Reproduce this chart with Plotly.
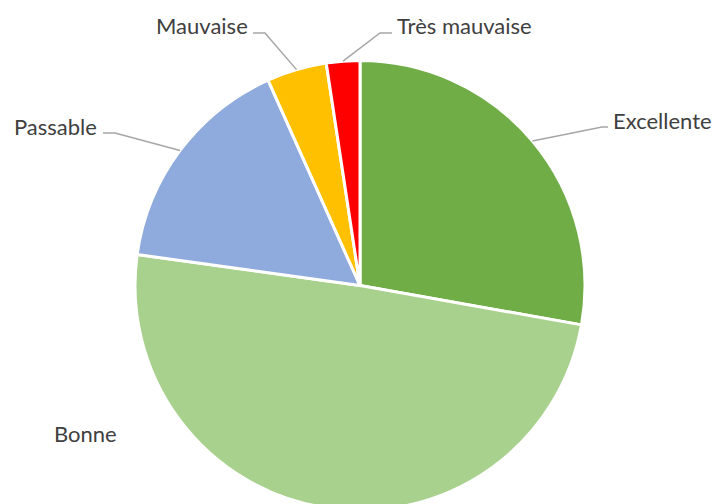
import math
import plotly.graph_objects as go

categories = ["Excellente", "Bonne", "Passable", "Mauvaise", "Très mauvaise"]
values = [27.8, 49.4, 16.1, 4.3, 2.4]
colors = ["#70AD47", "#A9D18E", "#8FAADC", "#FFC000", "#FF0000"]

W, H = 712, 520  # window shows the top 504 px; pie bottom is cut off as in the original
# pie geometry in pixels (layout)
CX, CY, R = 360, 285.5, 225

# label placement (layout, pixels): text anchor x, y, xanchor, elbow, end of leader
label_layout = {
    "Excellente": dict(x=611, y=120, xanchor="left", elbow=(602, 127), end=(608, 127)),
    "Bonne": dict(x=52, y=433, xanchor="left", elbow=None, end=None),
    "Passable": dict(x=99, y=126, xanchor="right", elbow=(115, 133), end=(103, 133)),
    "Mauvaise": dict(x=250, y=25, xanchor="right", elbow=(265, 33), end=(253, 33)),
    "Très mauvaise": dict(x=395, y=25, xanchor="left", elbow=(380, 33), end=(392, 33)),
}


def px(x):
    return x / W


def py(y):
    return 1 - y / H


fig = go.Figure(
    go.Pie(
        labels=categories,
        values=values,
        sort=False,
        direction="clockwise",
        rotation=0,
        marker=dict(colors=colors, line=dict(color="white", width=3)),
        textinfo="none",
        hoverinfo="label+percent",
        domain=dict(x=[px(CX - R), px(CX + R)], y=[py(CY + R), py(CY - R)]),
        showlegend=False,
    )
)

total = sum(values)
cum = 0
shapes = []
annotations = []
for cat, v in zip(categories, values):
    mid = (cum + v / 2) / total * 2 * math.pi
    cum += v
    ex = CX + R * math.sin(mid)
    ey = CY - R * math.cos(mid)
    lay = label_layout[cat]
    if lay["elbow"] is not None:
        (bx, by), (tx, ty) = lay["elbow"], lay["end"]
        path = f"M {px(ex)},{py(ey)} L {px(bx)},{py(by)} L {px(tx)},{py(ty)}"
        shapes.append(dict(type="path", xref="paper", yref="paper", path=path,
                           line=dict(color="#A6A6A6", width=1.5)))
    annotations.append(dict(
        text=cat, x=px(lay["x"]), y=py(lay["y"]), xref="paper", yref="paper",
        xanchor=lay["xanchor"], yanchor="middle", showarrow=False,
        font=dict(family="Lato", size=22, color="#404040"),
    ))

fig.update_layout(
    width=W, height=H,
    margin=dict(l=0, r=0, t=0, b=0),
    paper_bgcolor="white",
    plot_bgcolor="white",
    shapes=shapes,
    annotations=annotations,
)

fig.write_html(
    "out.html",
    config={"displayModeBar": False},
    post_script="document.body.style.margin='0';document.body.style.overflow='hidden';",
)
